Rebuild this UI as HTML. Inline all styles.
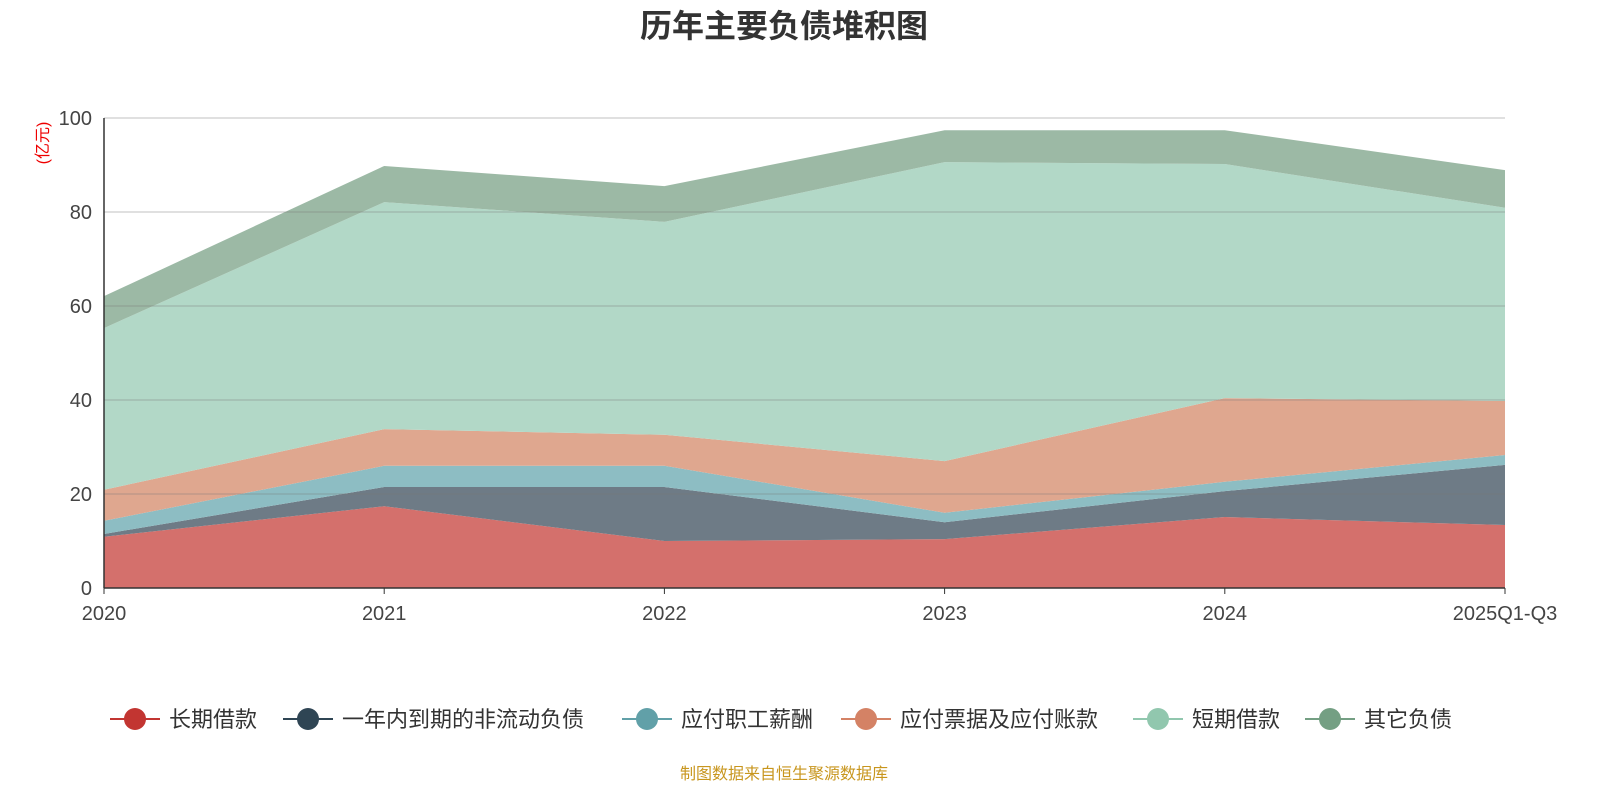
<!DOCTYPE html>
<html><head><meta charset="utf-8"><style>
body{margin:0;background:#fff;}
svg{display:block;font-family:"Liberation Sans","Noto Sans CJK SC",sans-serif;}
</style></head><body>
<svg id="chart" width="1600" height="800">
<text x="784" y="37" text-anchor="middle" font-size="32" font-weight="bold" fill="#333">历年主要负债堆积图</text>
<text transform="translate(48,143) rotate(-90)" text-anchor="middle" font-size="16" fill="#e00">(亿元)</text>
<g id="areas"></g><g id="grid"></g><g id="axes"></g><g id="legend"></g>
<text x="784" y="779" text-anchor="middle" font-size="16" fill="#c8961e">制图数据来自恒生聚源数据库</text>
</svg>
<script>
const categories=["2020","2021","2022","2023","2024","2025Q1-Q3"];
const seriesNames=["长期借款","一年内到期的非流动负债","应付职工薪酬","应付票据及应付账款","短期借款","其它负债"];
const s1=[10.9,17.4,10.0,10.4,15.1,13.4];
const s2=[0.6,4.1,11.5,3.6,5.5,12.8];
const s3=[2.8,4.5,4.5,2.0,2.0,2.1];
const s4=[6.6,7.8,6.6,11.0,17.8,11.5];
const s5=[34.4,48.3,45.3,63.6,49.8,41.1];
const s6=[6.8,7.7,7.6,6.8,7.2,8.0];
const yTicks=[0,20,40,60,80,100];
const series=[s1,s2,s3,s4,s5,s6];
const fills=["#d4706c","#6e7b86","#8dbdc3","#dfa78f","#b2d8c7","#9cb9a5"];
const lineCols=["#c23531","#2f4554","#61a0a8","#d48265","#91c7ae","#749f83"];
const NS="http://www.w3.org/2000/svg";
const x=i=>104+i*(1505-104)/(categories.length-1);
const y=v=>588-v*(588-118)/100;
function mk(tag,attrs,parent){const e=document.createElementNS(NS,tag);for(const k in attrs)e.setAttribute(k,attrs[k]);parent.appendChild(e);return e;}
const areas=document.getElementById('areas'),grid=document.getElementById('grid'),axes=document.getElementById('axes'),legend=document.getElementById('legend');
let base=categories.map(()=>0);
series.forEach((s,si)=>{
  const top=base.map((b,i)=>b+s[i]);
  let d="M"+categories.map((c,i)=>x(i)+","+y(top[i])).join(" L");
  for(let i=categories.length-1;i>=0;i--)d+=" L"+x(i)+","+y(base[i]);
  const p=mk('path',{d:d+"Z",fill:fills[si],stroke:'none'},areas);
  
  
  base=top;
});
yTicks.forEach(t=>{
  const l=mk('line',{x1:104,x2:1505,y1:y(t),y2:y(t),stroke:t===0?'#333':'rgba(120,120,120,0.45)','stroke-width':t===0?1.5:1},grid);
  
  
  const tx=mk('text',{x:92,y:y(t)+7,'text-anchor':'end','font-size':20,fill:'#444'},axes);
  tx.textContent=t;
  
  
});
const ya=mk('line',{x1:104,x2:104,y1:118,y2:588,stroke:'#333','stroke-width':1.5},axes);


categories.forEach((c,i)=>{
  mk('line',{x1:x(i),x2:x(i),y1:588,y2:594,stroke:'#333'},axes);
  const tx=mk('text',{x:x(i),y:620,'text-anchor':'middle','font-size':20,fill:'#444'},axes);
  tx.textContent=c;
  
  
});
const lx=[135,308,647,866,1158,1330];
seriesNames.forEach((n,i)=>{
  const g=mk('g',{},legend);
  
  
  mk('line',{x1:lx[i]-25,x2:lx[i]+25,y1:719,y2:719,stroke:lineCols[i],'stroke-width':2},g);
  mk('circle',{cx:lx[i],cy:719,r:11,fill:lineCols[i]},g);
  const t=mk('text',{x:lx[i]+34,y:727,'font-size':22,fill:'#333'},g);
  t.textContent=n;
});
</script>
</body></html>
